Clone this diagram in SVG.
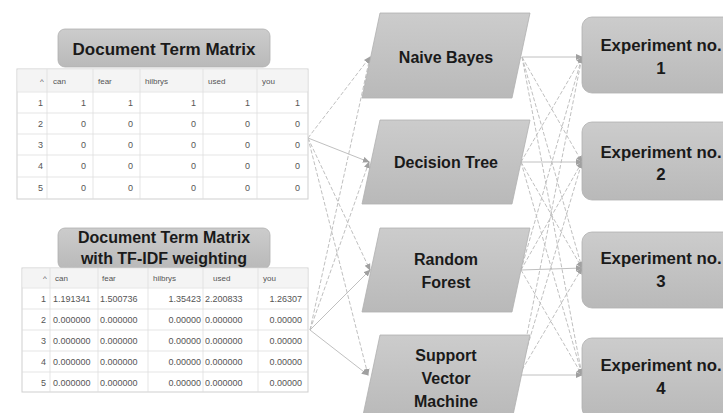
<svg xmlns="http://www.w3.org/2000/svg" width="723" height="413" viewBox="0 0 723 413">
<defs>
<linearGradient id="g" x1="0" y1="0" x2="0" y2="1">
<stop offset="0" stop-color="#cccccc"/><stop offset="1" stop-color="#b9b9b9"/>
</linearGradient>
<marker id="ah" viewBox="0 0 8 8" refX="7" refY="4" markerWidth="7" markerHeight="7" orient="auto" markerUnits="userSpaceOnUse">
<path d="M0,0.5 L8,4 L0,7.5 Z" fill="#a0a0a0"/>
</marker>
<style>
.box{fill:url(#g);stroke:#b0b0b0;stroke-width:0.8}
.t{font-family:"Liberation Sans",Arial,sans-serif;font-weight:bold;fill:#1a1a1a;text-anchor:middle}
.c{fill:none;stroke:#c0c0c0;stroke-width:1;marker-end:url(#ah)}
.d{stroke-dasharray:4,2}
.grid{stroke:#dedede;stroke-width:0.8;fill:none}
.tb{fill:#fff;stroke:#cfcfcf;stroke-width:1}
.hd{fill:#f4f4f4}
.tx{font-family:"Liberation Sans",Arial,sans-serif;font-size:8px;fill:#555}
.v{font-family:"Liberation Sans",Arial,sans-serif;font-size:9px;fill:#555}
.r{text-anchor:end}
</style>
</defs>
<rect width="723" height="413" fill="#fff"/>

<g id="connectors">
<line class="c d" x1="308" y1="138" x2="370" y2="57"/>
<line class="c" x1="308" y1="138" x2="369" y2="162"/>
<line class="c d" x1="308" y1="138" x2="370" y2="270"/>
<line class="c d" x1="308" y1="138" x2="368" y2="375"/>
<line class="c d" x1="310" y1="330" x2="370" y2="57"/>
<line class="c d" x1="310" y1="330" x2="369" y2="162"/>
<line class="c" x1="310" y1="330" x2="370" y2="270"/>
<line class="c" x1="310" y1="330" x2="368" y2="375"/>

<line class="c" x1="522" y1="57" x2="582" y2="57"/>
<line class="c d" x1="522" y1="57" x2="582" y2="162"/>
<line class="c d" x1="522" y1="57" x2="582" y2="268"/>
<line class="c d" x1="522" y1="57" x2="582" y2="375"/>
<line class="c d" x1="521" y1="162" x2="582" y2="57"/>
<line class="c" x1="521" y1="162" x2="582" y2="162"/>
<line class="c d" x1="521" y1="162" x2="582" y2="268"/>
<line class="c d" x1="521" y1="162" x2="582" y2="375"/>
<line class="c d" x1="521" y1="270" x2="582" y2="57"/>
<line class="c d" x1="521" y1="270" x2="582" y2="162"/>
<line class="c" x1="521" y1="270" x2="582" y2="268"/>
<line class="c d" x1="521" y1="270" x2="582" y2="375"/>
<line class="c d" x1="519" y1="375" x2="582" y2="57"/>
<line class="c d" x1="519" y1="375" x2="582" y2="162"/>
<line class="c d" x1="519" y1="375" x2="582" y2="268"/>
<line class="c" x1="519" y1="375" x2="582" y2="375"/>
</g>

<g id="dtm-title">
<rect class="box" x="58" y="29" width="212" height="38" rx="7"/>
<text class="t" x="164" y="55" font-size="17">Document Term Matrix</text>
</g>

<g id="dtm-table">
<rect class="tb" x="17" y="69" width="291" height="130"/>
<rect class="hd" x="17.5" y="69.5" width="290" height="22"/>
<path class="grid" d="M17,92H308M17,113H308M17,134H308M17,155H308M17,177H308M47,69V199M93,69V199M140,69V199M203,69V199M257,69V199"/>
<text class="tx" x="40" y="84">^</text>
<text class="tx" x="53" y="84">can</text>
<text class="tx" x="98" y="84">fear</text>
<text class="tx" x="145" y="84">hilbrys</text>
<text class="tx" x="208" y="84">used</text>
<text class="tx" x="262" y="84">you</text>
<g class="v r">
<text x="43" y="106">1</text><text x="86" y="106">1</text><text x="133" y="106">1</text><text x="196" y="106">1</text><text x="250" y="106">1</text><text x="300" y="106">1</text>
<text x="43" y="127">2</text><text x="86" y="127">0</text><text x="133" y="127">0</text><text x="196" y="127">0</text><text x="250" y="127">0</text><text x="300" y="127">0</text>
<text x="43" y="148">3</text><text x="86" y="148">0</text><text x="133" y="148">0</text><text x="196" y="148">0</text><text x="250" y="148">0</text><text x="300" y="148">0</text>
<text x="43" y="169">4</text><text x="86" y="169">0</text><text x="133" y="169">0</text><text x="196" y="169">0</text><text x="250" y="169">0</text><text x="300" y="169">0</text>
<text x="43" y="191">5</text><text x="86" y="191">0</text><text x="133" y="191">0</text><text x="196" y="191">0</text><text x="250" y="191">0</text><text x="300" y="191">0</text>
</g>
</g>

<g id="tfidf-title">
<rect class="box" x="58" y="228" width="212" height="41" rx="7"/>
<text class="t" x="164" y="243" font-size="16">Document Term Matrix</text>
<text class="t" x="164" y="264" font-size="16">with TF-IDF weighting</text>
</g>

<g id="tfidf-table">
<rect class="tb" x="22" y="268" width="286" height="124"/>
<rect class="hd" x="22.5" y="268.5" width="285" height="19"/>
<path class="grid" d="M22,288H308M22,309H308M22,330H308M22,351H308M22,372H308M50,268V392M98,268V392M148,268V392M203,268V392M258,268V392"/>
<text class="tx" x="43" y="281">^</text>
<text class="tx" x="55" y="281">can</text>
<text class="tx" x="102" y="281">fear</text>
<text class="tx" x="153" y="281">hilbrys</text>
<text class="tx" x="213" y="281">used</text>
<text class="tx" x="263" y="281">you</text>
<g class="v">
<text class="r" x="46" y="302">1</text><text x="53" y="302">1.191341</text><text x="100" y="302">1.500736</text><text class="r" x="201" y="302">1.35423</text><text x="205" y="302">2.200833</text><text class="r" x="302" y="302">1.26307</text>
<text class="r" x="46" y="323">2</text><text x="53" y="323">0.000000</text><text x="100" y="323">0.000000</text><text class="r" x="201" y="323">0.00000</text><text x="205" y="323">0.000000</text><text class="r" x="302" y="323">0.00000</text>
<text class="r" x="46" y="344">3</text><text x="53" y="344">0.000000</text><text x="100" y="344">0.000000</text><text class="r" x="201" y="344">0.00000</text><text x="205" y="344">0.000000</text><text class="r" x="302" y="344">0.00000</text>
<text class="r" x="46" y="365">4</text><text x="53" y="365">0.000000</text><text x="100" y="365">0.000000</text><text class="r" x="201" y="365">0.00000</text><text x="205" y="365">0.000000</text><text class="r" x="302" y="365">0.00000</text>
<text class="r" x="46" y="386">5</text><text x="53" y="386">0.000000</text><text x="100" y="386">0.000000</text><text class="r" x="201" y="386">0.00000</text><text x="205" y="386">0.000000</text><text class="r" x="302" y="386">0.00000</text>
</g>
</g>

<g id="naive-bayes">
<polygon class="box" points="380,13 530,13 512,98 362,98"/>
<text class="t" x="446" y="63" font-size="16">Naive Bayes</text>
</g>
<g id="decision-tree">
<polygon class="box" points="380,120 530,120 512,204 362,204"/>
<text class="t" x="446" y="168" font-size="16">Decision Tree</text>
</g>
<g id="random-forest">
<polygon class="box" points="380,228 530,228 512,312 362,312"/>
<text class="t" x="446" y="265" font-size="16">Random</text>
<text class="t" x="446" y="288" font-size="16">Forest</text>
</g>
<g id="svm">
<polygon class="box" points="380,335 530,335 512,420 362,420"/>
<text class="t" x="446" y="361" font-size="16">Support</text>
<text class="t" x="446" y="384" font-size="16">Vector</text>
<text class="t" x="446" y="407" font-size="16">Machine</text>
</g>

<g id="exp1">
<rect class="box" x="582" y="17" width="160" height="76" rx="10"/>
<text class="t" x="661" y="51" font-size="16.8">Experiment no.</text>
<text class="t" x="661" y="74" font-size="16.8">1</text>
</g>
<g id="exp2">
<rect class="box" x="582" y="122" width="160" height="78" rx="10"/>
<text class="t" x="661" y="158" font-size="16.8">Experiment no.</text>
<text class="t" x="661" y="180" font-size="16.8">2</text>
</g>
<g id="exp3">
<rect class="box" x="582" y="232" width="160" height="76" rx="10"/>
<text class="t" x="661" y="264" font-size="16.8">Experiment no.</text>
<text class="t" x="661" y="287" font-size="16.8">3</text>
</g>
<g id="exp4">
<rect class="box" x="582" y="338" width="160" height="80" rx="10"/>
<text class="t" x="661" y="371" font-size="16.8">Experiment no.</text>
<text class="t" x="661" y="394" font-size="16.8">4</text>
</g>
</svg>
